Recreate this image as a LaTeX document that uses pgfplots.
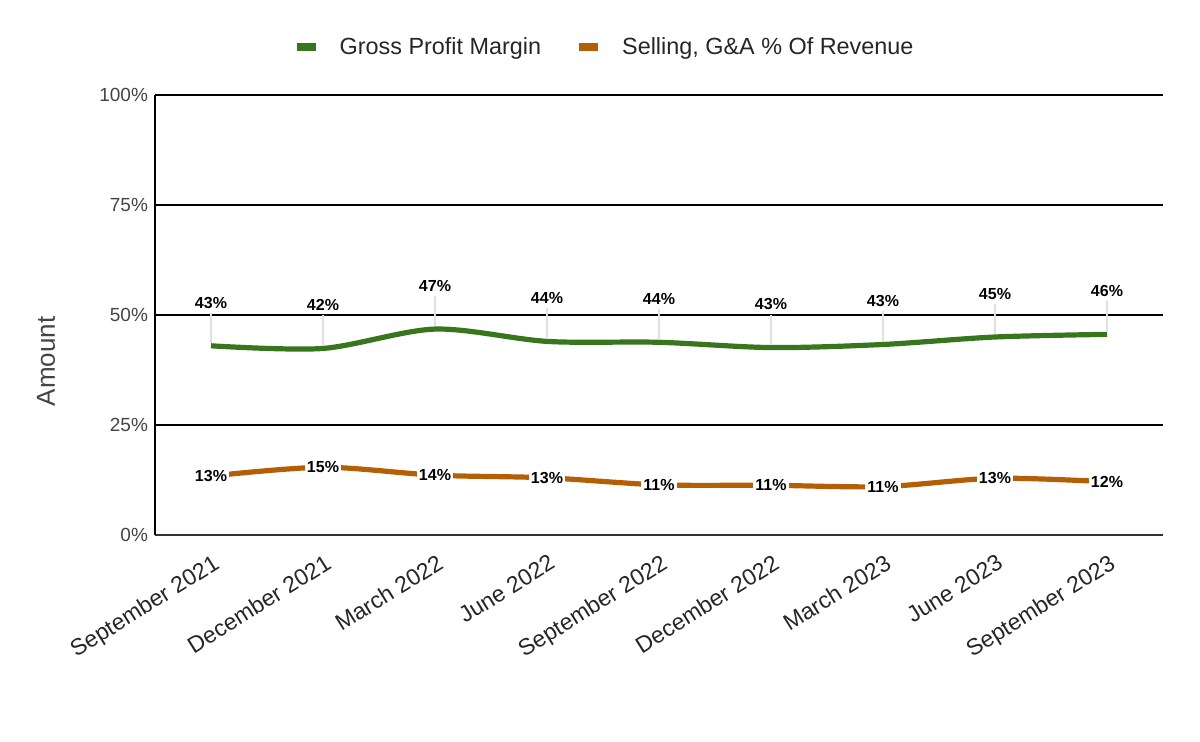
\documentclass[border=0pt]{standalone}
\usepackage{fontspec}
\setmainfont{Liberation Sans}
\usepackage{pgfplots}
\pgfplotsset{compat=1.18}
\definecolor{gpm}{HTML}{38761D}
\definecolor{sga}{HTML}{B45F06}
\definecolor{tickgray}{HTML}{444444}
\definecolor{leader}{HTML}{E0E0E0}
\begin{document}
\begin{tikzpicture}
\useasboundingbox (0,0) rectangle (600pt,370.5pt);
\begin{axis}[
 at={(77.5pt,103pt)}, anchor=south west,
 scale only axis, width=504pt, height=220pt,
 xmin=-0.5, xmax=8.5, ymin=0, ymax=100,
 clip=false,
 xtick={0,...,8},
 xticklabels={September 2021, December 2021, March 2022, June 2022, September 2022, December 2022, March 2023, June 2023, September 2023},
 ytick={0,25,50,75,100},
 yticklabel={\pgfmathprintnumber{\tick}\%},
 /pgf/number format/assume math mode=true,
 major tick length=0pt,
 axis x line*=bottom, axis y line*=left,
 axis line style={-, line width=1pt, black},
 x axis line style={draw=black!80},
 ymajorgrids, grid style={black, line width=1pt},
 xticklabel style={rotate=32, anchor=north east, font=\fontsize{11.5}{13}\selectfont, text=black!85, xshift=-1pt, yshift=-4.5pt},
 yticklabel style={font=\fontsize{9.5}{11}\selectfont, text=tickgray},
 ylabel={Amount},
 ylabel style={at={(axis description cs:-0.108,0.395)}, anchor=center, font=\fontsize{13}{15}\selectfont, text=tickgray},
 legend columns=2,
 legend style={at={(axis description cs:0.4465,1.109)}, anchor=center, draw=none, fill=none, font=\fontsize{11.7}{14}\selectfont, text=black!85,
   /tikz/every even column/.append style={column sep=15pt},
   /tikz/every odd column/.append style={column sep=8pt}},
 legend image code/.code={\draw[#1, line width=4pt, line cap=butt] (0pt,0pt) -- (9.5pt,0pt);},
]
\addplot[gpm, line width=2.6pt, smooth, tension=0.5,
  nodes near coords={\pgfmathprintnumber[fixed,precision=0]{\pgfplotspointmeta}\%},
  every node near coord/.append style={anchor=south, yshift=16.5pt, font=\bfseries\fontsize{8}{9}\selectfont, fill=white, inner sep=1pt, text=black,
    append after command={(\tikzlastnode.south) edge[draw=leader, line width=0.7pt] ([yshift=-15.2pt]\tikzlastnode.south)}}]
 coordinates {(0,43.0)(1,42.4)(2,46.8)(3,44.0)(4,43.8)(5,42.6)(6,43.3)(7,45.0)(8,45.6)};
\addlegendentry{Gross Profit Margin}
\addplot[sga, line width=2.6pt, smooth, tension=0.5,
  nodes near coords={\pgfmathprintnumber[fixed,precision=0]{\pgfplotspointmeta}\%},
  every node near coord/.append style={anchor=center, font=\bfseries\fontsize{8}{9}\selectfont, fill=white, inner sep=1pt, text=black}]
 coordinates {(0,13.4)(1,15.4)(2,13.6)(3,13.0)(4,11.4)(5,11.3)(6,11.0)(7,12.9)(8,12.1)};
\addlegendentry{Selling, G\&A \% Of Revenue}
\end{axis}
\end{tikzpicture}
\end{document}
